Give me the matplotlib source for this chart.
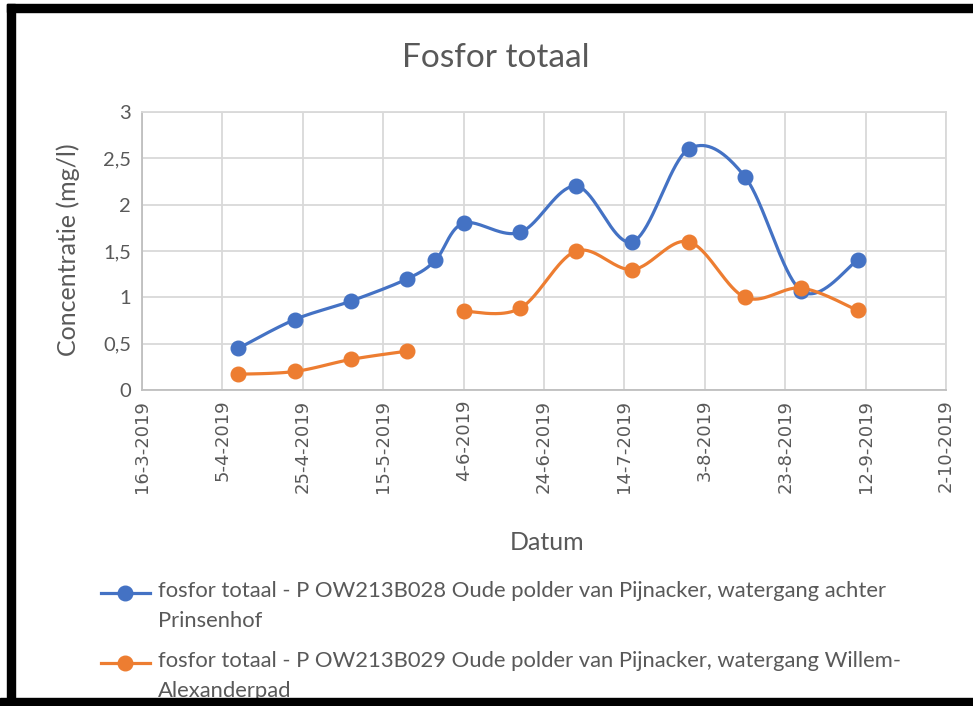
"""
Fosfor totaal - Excel-style smoothed line chart, recreated in matplotlib.
"""

import datetime as dt

import numpy as np
import matplotlib
matplotlib.use("Agg")
import matplotlib.pyplot as plt
import matplotlib.dates as mdates
from matplotlib.lines import Line2D
from matplotlib.patches import Rectangle


# --- data -------------------------------------------------------------------
sample_dates = [
    "2019-04-09", "2019-04-23", "2019-05-07", "2019-05-21", "2019-05-28",
    "2019-06-04", "2019-06-18", "2019-07-02", "2019-07-16", "2019-07-30",
    "2019-08-13", "2019-08-27", "2019-09-10",
]
p_b028 = [0.45, 0.76, 0.96, 1.2, 1.4, 1.8, 1.7, 2.2, 1.6, 2.6, 2.3, 1.07, 1.4]
p_b029 = [0.17, 0.2, 0.33, 0.42, np.nan, 0.85, 0.88, 1.5, 1.3, 1.6, 1.0, 1.1, 0.86]

label_b028 = ("fosfor totaal - P OW213B028 Oude polder van Pijnacker, watergang achter\n"
              "Prinsenhof")
label_b029 = ("fosfor totaal - P OW213B029 Oude polder van Pijnacker, watergang Willem-\n"
              "Alexanderpad")

tick_start = dt.date(2019, 3, 16)
tick_step_days = 20
n_ticks = 11

BLUE = "#4472C4"
ORANGE = "#ED7D31"
TEXT = "#595959"
GRID = "#D9D9D9"

W, H = 973, 706


def px_x(x):
    return x / W


def px_y(y):
    return 1 - y / H


def smooth_runs(x, y, n=40):
    """Catmull-Rom style Bezier smoothing (like Excel) on each run without gaps."""
    x = np.asarray(x, dtype=float)
    y = np.asarray(y, dtype=float)
    runs = []
    ok = ~np.isnan(y)
    i = 0
    while i < len(y):
        if not ok[i]:
            i += 1
            continue
        j = i
        while j < len(y) and ok[j]:
            j += 1
        runs.append((x[i:j], y[i:j]))
        i = j

    out = []
    for rx, ry in runs:
        if len(rx) < 2:
            out.append((rx, ry))
            continue
        pts = np.column_stack([rx, ry])
        xs, ys = [], []
        for k in range(len(pts) - 1):
            p0 = pts[k - 1] if k > 0 else pts[k]
            p1 = pts[k]
            p2 = pts[k + 1]
            p3 = pts[k + 2] if k + 2 < len(pts) else pts[k + 1]
            c1 = p1 + (p2 - p0) / 6.0
            c2 = p2 - (p3 - p1) / 6.0
            t = np.linspace(0, 1, n)[:, None]
            seg = ((1 - t) ** 3 * p1 + 3 * (1 - t) ** 2 * t * c1
                   + 3 * (1 - t) * t ** 2 * c2 + t ** 3 * p2)
            xs.extend(seg[:, 0])
            ys.extend(seg[:, 1])
        out.append((np.array(xs), np.array(ys)))
    return out


def main():
    plt.rcParams["font.family"] = ["Lato", "DejaVu Sans"]

    fig = plt.figure(figsize=(W / 100, H / 100), dpi=100)
    ax = fig.add_axes([px_x(142), px_y(390), px_x(946 - 142), (390 - 112) / H])

    xdates = mdates.date2num([dt.date.fromisoformat(d) for d in sample_dates])

    for values, color in [(p_b028, BLUE), (p_b029, ORANGE)]:
        for sx, sy in smooth_runs(xdates, values):
            ax.plot(sx, sy, color=color, lw=2.3, solid_capstyle="round", zorder=3)
        ax.plot(xdates, values, linestyle="none", marker="o", ms=10.5,
                color=color, zorder=4)

    # axes / ticks
    ticks = [tick_start + dt.timedelta(days=tick_step_days * k) for k in range(n_ticks)]
    ax.set_xlim(mdates.date2num(ticks[0]), mdates.date2num(ticks[-1]))
    ax.set_xticks(mdates.date2num(ticks))
    ax.set_xticklabels([f"{d.day}-{d.month}-{d.year}" for d in ticks],
                       rotation=90, family="DejaVu Sans", fontsize=13, color=TEXT)

    ax.set_ylim(0, 3)
    yticks = np.arange(0, 3.01, 0.5)
    ax.set_yticks(yticks)
    ax.set_yticklabels([f"{v:g}".replace(".", ",") for v in yticks],
                       fontsize=14.5, color=TEXT)

    ax.tick_params(length=0, pad=8)
    ax.tick_params(axis="x", pad=7)
    ax.grid(True, color=GRID, lw=1.3)
    ax.set_axisbelow(True)
    for name, spine in ax.spines.items():
        spine.set_color(GRID)
        spine.set_linewidth(1.3)
    ax.spines["bottom"].set_color("#BFBFBF")
    ax.spines["left"].set_color("#BFBFBF")

    # titles and axis labels
    fig.text(px_x(496), px_y(58), "Fosfor totaal", ha="center", va="center",
             fontsize=24, color=TEXT)
    fig.text(px_x(68), px_y(250), "Concentratie (mg/l)", ha="center", va="center",
             rotation=90, fontsize=18, color=TEXT)
    fig.text(px_x(547), px_y(542), "Datum", ha="center", va="center",
             fontsize=18, color=TEXT)

    # legend, drawn by hand (Excel style, wrapped text)
    for y_line, color, label in [(593, BLUE, label_b028), (663, ORANGE, label_b029)]:
        fig.add_artist(Line2D([px_x(101), px_x(150)], [px_y(y_line), px_y(y_line)],
                              color=color, lw=2.3, transform=fig.transFigure))
        fig.add_artist(Line2D([px_x(125)], [px_y(y_line)], marker="o", ms=10.5,
                              color=color, transform=fig.transFigure))
        fig.text(px_x(158), px_y(y_line - 12), label, ha="left", va="top",
                 fontsize=15.8, color=TEXT, linespacing=1.6)

    # black screenshot frame
    for x0, y0, x1, y1 in [(7, 4, 973, 12), (7, 4, 15, 706), (0, 698, 973, 706)]:
        fig.add_artist(Rectangle((px_x(x0), px_y(y1)), (x1 - x0) / W, (y1 - y0) / H,
                                 transform=fig.transFigure, color="black", zorder=10))

    fig.savefig("out.png", dpi=100)
    plt.close(fig)


if __name__ == "__main__":
    main()
